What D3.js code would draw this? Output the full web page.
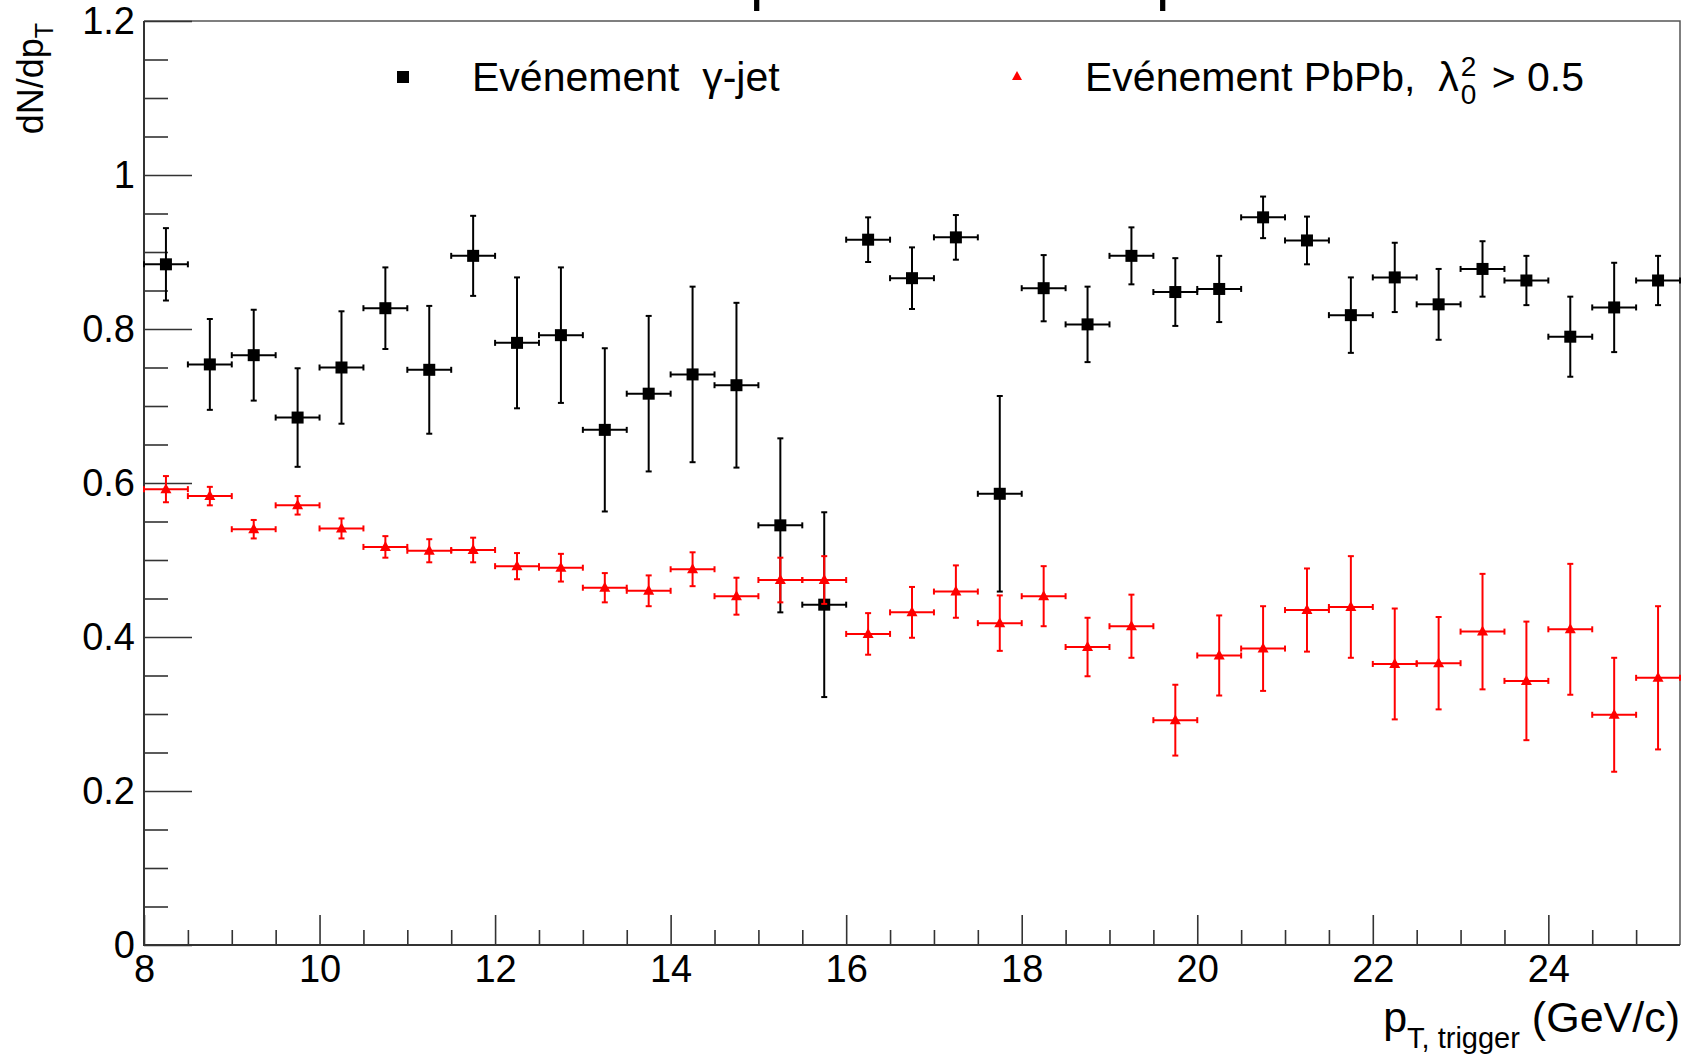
<!DOCTYPE html>
<html lang="fr">
<head>
    <meta charset="utf-8">
    <title>dN/dpT</title>
    <style>
        body {
            margin: 0;
            background: white;
        }

        svg text {
            font-family: "Liberation Sans", Arial, sans-serif;
            fill: black;
        }
    </style>
</head>
<body>
<svg class="chart"></svg>
<script src="https://cdn.jsdelivr.net/npm/d3@7"></script>
<script>

  const width = 1693;
  const height = 1061;
  const margin = {top: 21, right: 13, bottom: 116, left: 144};

  // bin centres of the pT,trigger histogram (GeV/c)
  const ptBins = [8.25, 8.75, 9.25, 9.75, 10.25, 10.75, 11.25, 11.75, 12.25, 12.75,
                  13.25, 13.75, 14.25, 14.75, 15.25, 15.75, 16.25, 16.75, 17.25, 17.75,
                  18.25, 18.75, 19.25, 19.75, 20.25, 20.75, 21.25, 21.75, 22.25, 22.75,
                  23.25, 23.75, 24.25, 24.75, 25.25];
  const binHalfWidth = 0.25;

  // Evénement gamma-jet
  const gammaJet = [0.884, 0.754, 0.766, 0.685, 0.750, 0.827, 0.747, 0.895, 0.782, 0.792,
                    0.669, 0.716, 0.741, 0.727, 0.545, 0.442, 0.916, 0.866, 0.919, 0.586,
                    0.853, 0.806, 0.895, 0.848, 0.852, 0.945, 0.915, 0.818, 0.867, 0.832,
                    0.878, 0.863, 0.790, 0.828, 0.863];
  const gammaJetErr = [0.047, 0.059, 0.059, 0.064, 0.073, 0.053, 0.083, 0.052, 0.085, 0.088,
                       0.106, 0.101, 0.114, 0.107, 0.113, 0.120, 0.029, 0.040, 0.029, 0.127,
                       0.043, 0.049, 0.037, 0.044, 0.043, 0.027, 0.031, 0.049, 0.045, 0.046,
                       0.036, 0.032, 0.052, 0.058, 0.032];

  // Evénement PbPb, lambda0^2 > 0.5
  const pbpb = [0.592, 0.583, 0.540, 0.571, 0.541, 0.517, 0.512, 0.513, 0.492, 0.490,
                0.464, 0.460, 0.488, 0.453, 0.474, 0.474, 0.404, 0.432, 0.459, 0.418,
                0.453, 0.387, 0.414, 0.292, 0.376, 0.385, 0.435, 0.439, 0.365, 0.366,
                0.407, 0.343, 0.410, 0.299, 0.347];
  const pbpbErr = [0.017, 0.012, 0.012, 0.012, 0.013, 0.014, 0.015, 0.016, 0.017, 0.018,
                   0.019, 0.020, 0.022, 0.024, 0.029, 0.031, 0.027, 0.033, 0.034, 0.036,
                   0.039, 0.038, 0.041, 0.046, 0.052, 0.055, 0.054, 0.066, 0.072, 0.060,
                   0.075, 0.077, 0.085, 0.074, 0.093];

  const xTickLabels = [8, 10, 12, 14, 16, 18, 20, 22, 24];
  const yTickLabels = ["0", "0.2", "0.4", "0.6", "0.8", "1", "1.2"];
  const xDomain = [8, 25.5];
  const yDomain = [0, 1.2];

  const series = [
    {name: "Evénement\u00a0 γ-jet", values: gammaJet, errors: gammaJetErr, color: "black", marker: "square"},
    {name: "Evénement PbPb,\u00a0 λ", values: pbpb, errors: pbpbErr, color: "#ff0000", marker: "triangle"}
  ];

  const x = d3.scaleLinear()
    .domain(xDomain)
    .range([margin.left, width - margin.right]);

  const y = d3.scaleLinear()
    .domain(yDomain)
    .range([height - margin.bottom, margin.top]);

  const svg = d3.select(".chart")
    .attr("width", width)
    .attr("height", height)
    .style("display", "block");

  svg.append("rect")
    .attr("width", width).attr("height", height)
    .attr("fill", "white");

  // title, cut off by the top of the canvas: only the descenders of the "p" are left
  svg.append("g").selectAll("text")
    .data([750, 1156])
    .enter().append("text")
    .attr("x", d => d)
    .attr("y", -1)
    .style("font-size", "60px")
    .text("p");

  // frame (top / right)
  svg.append("path")
    .attr("d", `M${x(xDomain[0])},${y(yDomain[1])}H${x(xDomain[1])}V${y(yDomain[0])}`)
    .attr("fill", "none")
    .attr("stroke", "#555")
    .attr("stroke-width", 1.5);

  // y axis, ticks pointing inwards
  const yMinor = d3.range(0, 1.2001, 0.05).filter(v => Math.abs(v * 5 - Math.round(v * 5)) > 1e-6);
  const yAxisG = svg.append("g").attr("transform", `translate(${x(xDomain[0])},0)`);
  yAxisG.append("g")
    .call(d3.axisLeft(y).tickValues(yMinor).tickSizeInner(-24).tickSizeOuter(0).tickFormat(""))
    .call(g => g.select(".domain").remove());
  yAxisG.append("g")
    .call(d3.axisLeft(y).tickValues(yTickLabels.map(Number)).tickSizeInner(-48).tickSizeOuter(0)
      .tickPadding(9).tickFormat((d, i) => yTickLabels[i]))
    .call(g => g.select(".domain").remove());
  yAxisG.selectAll("line").attr("stroke", "#333").attr("stroke-width", 1.6);
  yAxisG.selectAll("text").style("font-size", "38px").attr("fill", "black");

  // x axis
  const xMinor = d3.range(8.5, 25.5, 0.5).filter(v => v % 2 !== 0);
  const xAxisG = svg.append("g").attr("transform", `translate(0,${y(yDomain[0])})`);
  xAxisG.append("g")
    .call(d3.axisBottom(x).tickValues(xMinor).tickSizeInner(-15).tickSizeOuter(0).tickFormat(""))
    .call(g => g.select(".domain").remove());
  xAxisG.append("g")
    .call(d3.axisBottom(x).tickValues(xTickLabels).tickSizeInner(-30).tickSizeOuter(0)
      .tickPadding(10).tickFormat(d3.format("d")))
    .call(g => g.select(".domain").remove());
  xAxisG.selectAll("line").attr("stroke", "#333").attr("stroke-width", 1.6);
  xAxisG.selectAll("text").style("font-size", "38px").attr("fill", "black");

  // axis lines
  svg.append("path")
    .attr("d", `M${x(xDomain[0])},${y(yDomain[1])}V${y(yDomain[0])}H${x(xDomain[1])}`)
    .attr("fill", "none")
    .attr("stroke", "#333")
    .attr("stroke-width", 2);

  // axis titles
  const yTitle = svg.append("text")
    .attr("transform", `translate(43,23) rotate(-90)`)
    .attr("text-anchor", "end")
    .style("font-size", "36px");
  yTitle.append("tspan").text("dN/dp");
  yTitle.append("tspan").attr("dy", 10).style("font-size", "25px").text("T");

  const xTitle = svg.append("text")
    .attr("x", width - margin.right)
    .attr("y", 1032)
    .attr("text-anchor", "end")
    .style("font-size", "43px");
  xTitle.append("tspan").text("p");
  xTitle.append("tspan").attr("dy", 16).style("font-size", "29px").text("T, trigger");
  xTitle.append("tspan").attr("dy", -16).text("\u00a0(GeV/c)");

  // data points with error bars
  const cap = 3;
  series.forEach(s => {
    const pts = ptBins.map((c, i) => ({c: c, v: s.values[i], e: s.errors[i]}));
    const g = svg.append("g")
      .attr("stroke", s.color)
      .attr("stroke-width", 2)
      .attr("fill", s.color);

    const bar = g.selectAll("g.point").data(pts).enter().append("g").attr("class", "point");
    // horizontal bars: bin width
    bar.append("line")
      .attr("x1", d => x(d.c - binHalfWidth)).attr("x2", d => x(d.c + binHalfWidth))
      .attr("y1", d => y(d.v)).attr("y2", d => y(d.v));
    bar.append("line")
      .attr("x1", d => x(d.c - binHalfWidth)).attr("x2", d => x(d.c - binHalfWidth))
      .attr("y1", d => y(d.v) - cap).attr("y2", d => y(d.v) + cap);
    bar.append("line")
      .attr("x1", d => x(d.c + binHalfWidth)).attr("x2", d => x(d.c + binHalfWidth))
      .attr("y1", d => y(d.v) - cap).attr("y2", d => y(d.v) + cap);
    // vertical bars: statistical error
    bar.append("line")
      .attr("x1", d => x(d.c)).attr("x2", d => x(d.c))
      .attr("y1", d => y(d.v + d.e)).attr("y2", d => y(d.v - d.e));
    bar.append("line")
      .attr("x1", d => x(d.c) - cap).attr("x2", d => x(d.c) + cap)
      .attr("y1", d => y(d.v + d.e)).attr("y2", d => y(d.v + d.e));
    bar.append("line")
      .attr("x1", d => x(d.c) - cap).attr("x2", d => x(d.c) + cap)
      .attr("y1", d => y(d.v - d.e)).attr("y2", d => y(d.v - d.e));

    if (s.marker === "square") {
      bar.append("rect")
        .attr("x", d => x(d.c) - 6).attr("y", d => y(d.v) - 6)
        .attr("width", 12).attr("height", 12)
        .attr("stroke", "none");
    } else {
      bar.append("path")
        .attr("d", d => `M${x(d.c)},${y(d.v) - 6}l5.5,10h-11z`)
        .attr("stroke", "none");
    }
  });

  // legend
  const legendY = 77;
  svg.append("rect")
    .attr("x", 403 - 6).attr("y", legendY - 6)
    .attr("width", 12).attr("height", 12)
    .attr("fill", "black");
  svg.append("text")
    .attr("x", 472).attr("y", legendY + 14)
    .style("font-size", "41px")
    .text(series[0].name);

  svg.append("path")
    .attr("d", `M1017,${legendY - 6}l5,9h-10z`)
    .attr("fill", "#ff0000");
  const leg2 = svg.append("text")
    .attr("x", 1085).attr("y", legendY + 14)
    .style("font-size", "41px");
  leg2.append("tspan").text(series[1].name);
  leg2.append("tspan").attr("dx", 2).attr("dy", -15).style("font-size", "28px").text("2");
  leg2.append("tspan").attr("dx", -15.6).attr("dy", 28).style("font-size", "28px").text("0");
  leg2.append("tspan").attr("dx", 4).attr("dy", -13).text(" > 0.5");

</script>
</body>
</html>
